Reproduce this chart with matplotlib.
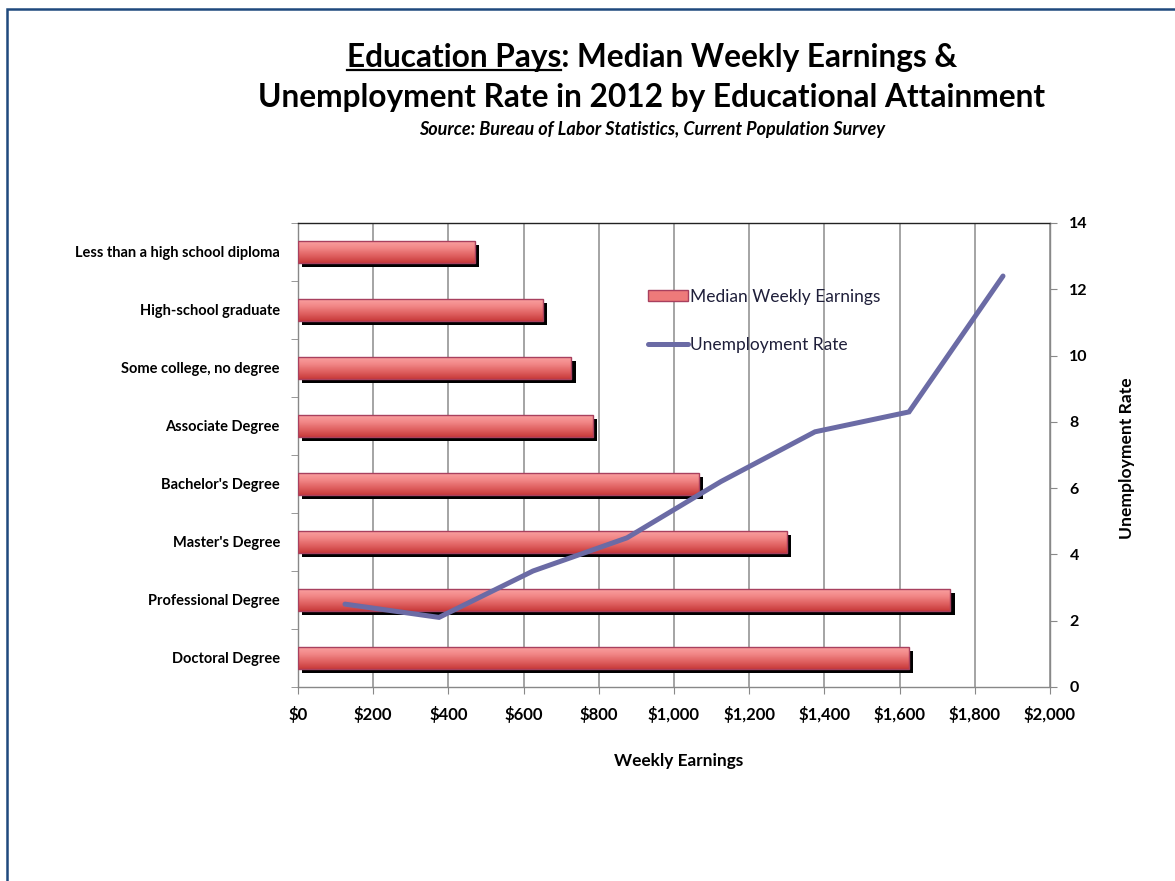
import numpy as np
import matplotlib
matplotlib.use("Agg")
import matplotlib.pyplot as plt
import matplotlib.patheffects as pe
from matplotlib.patches import Rectangle, Patch
from matplotlib.lines import Line2D
from matplotlib.ticker import StrMethodFormatter, FixedLocator

plt.rcParams["font.family"] = ["Lato", "DejaVu Sans"]

# ---- data ----
categories = [
    "Less than a high school diploma",
    "High-school graduate",
    "Some college, no degree",
    "Associate Degree",
    "Bachelor's Degree",
    "Master's Degree",
    "Professional Degree",
    "Doctoral Degree",
]
earnings = [471, 652, 727, 785, 1066, 1300, 1735, 1624]
# unemployment series runs left->right from Doctoral up to Less than HS
unemp = [2.5, 2.1, 3.5, 4.5, 6.2, 7.7, 8.3, 12.4]
x_ticks = [0, 200, 400, 600, 800, 1000, 1200, 1400, 1600, 1800, 2000]
y2_ticks = [0, 2, 4, 6, 8, 10, 12, 14]

W, H = 1175, 881
fig = plt.figure(figsize=(W / 100, H / 100), dpi=100)


def fx(px):
    return px / W


def fy(py):
    return 1 - py / H


# outer frame
fig.add_artist(Rectangle((fx(7), -0.2), 1.3, fy(9) + 0.2, transform=fig.transFigure,
                         fill=False, edgecolor="#1f497d", lw=1.8, clip_on=False))

pos = [fx(298), fy(687), fx(1050) - fx(298), fy(223) - fy(687)]
ax = fig.add_axes(pos)

ypos = np.arange(len(categories))[::-1]
bar_h = 0.38
shadow = [pe.SimplePatchShadow(offset=(3.0, -3.0), shadow_rgbFace="black", alpha=1.0), pe.Normal()]
bars = ax.barh(ypos, earnings, height=bar_h, color="#e96b6b", edgecolor="none", zorder=3)
for b in bars:
    b.set_path_effects(shadow)

# gradient fill clipped to every bar
grad = np.linspace(0, 1, 64).reshape(-1, 1)
cmap = matplotlib.colors.LinearSegmentedColormap.from_list(
    "bar", ["#fba3a3", "#f28888", "#e06262", "#c83a3a"])
for b in bars:
    x0, y0, w, h = b.get_x(), b.get_y(), b.get_width(), b.get_height()
    im = ax.imshow(grad, extent=[x0, x0 + w, y0, y0 + h], origin="upper",
                   cmap=cmap, aspect="auto", zorder=3.5, interpolation="bilinear")
    im.set_clip_path(b)
ax.barh(ypos, earnings, height=bar_h, fill=False, edgecolor="#a8405e", lw=1.0, zorder=4)

ax.set_xlim(0, 2000)
ax.set_ylim(-0.5, len(categories) - 0.5)
ax.set_xticks(x_ticks)
ax.xaxis.set_major_formatter(StrMethodFormatter("${x:,.0f}"))
ax.set_yticks(ypos)
ax.set_yticklabels(categories)
ax.yaxis.set_minor_locator(FixedLocator(np.arange(-0.5, len(categories), 1.0)))
ax.tick_params(axis="y", which="major", length=0, pad=13, labelsize=10.5)
ax.tick_params(axis="y", which="minor", length=5, color="#888888", direction="out")
ax.tick_params(axis="x", length=5, color="#888888", direction="out", pad=9, labelsize=12)
for lab in ax.get_xticklabels() + ax.get_yticklabels():
    lab.set_fontweight("bold")
ax.grid(axis="x", color="#8c8c8c", lw=1.1, zorder=0)
ax.set_axisbelow(True)
for s in ["left", "bottom", "right"]:
    ax.spines[s].set_color("#888888")
    ax.spines[s].set_linewidth(1.0)
ax.spines["top"].set_color("#222222")
ax.spines["top"].set_linewidth(1.0)

# secondary axes for unemployment rate (category x, right y)
ax2 = fig.add_axes(pos, frameon=False)
ax2.patch.set_alpha(0)
ax2.set_xlim(-0.5, len(unemp) - 0.5)
ax2.set_ylim(0, 14)
ax2.plot(np.arange(len(unemp)), unemp, color="#6b6ba5", lw=3.6, solid_capstyle="round",
         solid_joinstyle="miter", zorder=5)
ax2.set_xticks([])
ax2.yaxis.tick_right()
ax2.set_yticks(y2_ticks)
ax2.tick_params(axis="y", length=5, color="#888888", direction="out", pad=9, labelsize=11.5)
for lab in ax2.get_yticklabels():
    lab.set_fontweight("bold")

handles = [Patch(facecolor="#ee7a7a", edgecolor="#a8405e", lw=1.0),
           Line2D([], [], color="#6b6ba5", lw=3.6, solid_capstyle="round")]
fig.legend(handles, ["Median Weekly Earnings", "Unemployment Rate"],
           loc="upper left", bbox_to_anchor=(fx(648), fy(289)), frameon=False,
           borderpad=0, borderaxespad=0, handlelength=2.3, handleheight=0.6,
           handletextpad=0.1, labelspacing=1.85, fontsize=12.5, labelcolor="#1f1f3a")

fig.text(fx(679), fy(761), "Weekly Earnings", ha="center", va="center",
         fontsize=12.4, fontweight="bold")
fig.text(fx(1127), fy(458), "Unemployment Rate", ha="center", va="center",
         rotation=90, fontsize=12.6, fontweight="bold")

# title
t1 = fig.text(fx(652), fy(57), "Education Pays: Median Weekly Earnings &", ha="center",
              va="center", fontsize=22.8, fontweight="bold")
fig.text(fx(652), fy(98), "Unemployment Rate in 2012 by Educational Attainment", ha="center",
         va="center", fontsize=22.8, fontweight="bold")
fig.text(fx(652), fy(129), "Source: Bureau of Labor Statistics, Current Population Survey",
         ha="center", va="center", fontsize=13, fontweight="bold", style="italic")

# underline "Education Pays"
fig.canvas.draw()
r = fig.canvas.get_renderer()
bb = t1.get_window_extent(r)
tmp = fig.text(0, 0, "Education Pays", fontsize=22.8, fontweight="bold")
wpart = tmp.get_window_extent(r).width
tmp.remove()
uy = bb.y0 + 2
fig.add_artist(Line2D([bb.x0 / W, (bb.x0 + wpart) / W], [uy / H, uy / H],
                      transform=fig.transFigure, color="black", lw=1.6))

fig.savefig("out.png", dpi=100)
